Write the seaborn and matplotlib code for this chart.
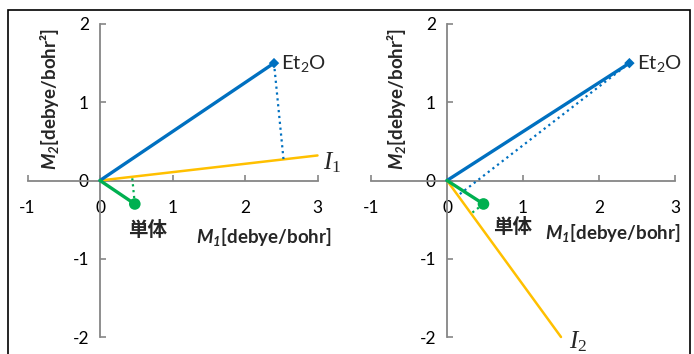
import numpy as np
import matplotlib
matplotlib.use("Agg")
import matplotlib.pyplot as plt
from matplotlib.patches import Rectangle
import seaborn as sns

# data (M1, M2)
et2o = [2.4, 1.5]
monomer = [0.48, -0.3]
i1_end = [3.0, 0.32]
i2_end = [1.5, -2.0]
xticks = [-1, 0, 1, 2, 3]
yticks = [-2, -1, 0, 1, 2]

sns.set_theme(style="white")
plt.rcParams["font.family"] = ["Lato", "Noto Sans CJK JP", "DejaVu Sans"]
plt.rcParams["mathtext.fontset"] = "custom"
plt.rcParams["mathtext.rm"] = "Liberation Serif"
plt.rcParams["mathtext.it"] = "Liberation Serif:italic"
plt.rcParams["mathtext.bf"] = "Lato:italic:bold"
plt.rcParams["mathtext.sf"] = "Lato"

BLUE = "#0070C0"
GOLD = "#FFC000"
GREEN = "#00B050"
GREY = "#868686"


def project(p, d):
    d = np.array(d, dtype=float)
    u = d / np.linalg.norm(d)
    return np.dot(p, u) * u


fig = plt.figure(figsize=(6.94, 3.54), dpi=100)
fig.patches.append(Rectangle((8 / 694, -0.1), 682 / 694, 1.1 - 10 / 354,
                             transform=fig.transFigure, fill=False,
                             edgecolor="black", linewidth=1.2))

axL = fig.add_axes([27.5 / 694, 17 / 354, 290 / 694, 313 / 354])
axR = fig.add_axes([371 / 694, 17 / 354, 304 / 694, 313 / 354])

panels = [
    (axL, i1_end, "$I_1$", (3.2, 0.23), (3.2, -0.72), (-0.69, 1.04), (0.66, -0.63)),
    (axR, i2_end, "$I_2$", (1.72, -2.06), (3.07, -0.67), (-0.66, 1.04), (0.86, -0.59)),
]

for ax, iend, ilab, ipos, xlpos, ylpos, mpos in panels:
    ax.set_xlim(-1, 3)
    ax.set_ylim(-2, 2)
    for s in ["top", "right"]:
        ax.spines[s].set_visible(False)
    for s in ["left", "bottom"]:
        ax.spines[s].set_position(("data", 0))
        ax.spines[s].set_color(GREY)
        ax.spines[s].set_linewidth(1.3)
    ax.set_xticks(xticks)
    ax.set_yticks(yticks)
    ax.set_xticklabels([str(t) for t in xticks])
    ax.set_yticklabels([str(t) for t in yticks])
    ax.tick_params(axis="both", direction="in", length=4, width=1.2,
                   color=GREY, labelsize=12.5, labelcolor="black")
    ax.tick_params(axis="x", pad=14)
    ax.tick_params(axis="y", pad=8)
    ax.tick_params(left=True, bottom=True)

    # axis line I
    sns.lineplot(x=[0, iend[0]], y=[0, iend[1]], ax=ax, color=GOLD,
                 linewidth=1.8, sort=False, zorder=3)
    # vectors
    sns.lineplot(x=[0, et2o[0]], y=[0, et2o[1]], ax=ax, color=BLUE,
                 linewidth=2.4, sort=False, zorder=4)
    sns.lineplot(x=[0, monomer[0]], y=[0, monomer[1]], ax=ax, color=GREEN,
                 linewidth=2.4, sort=False, zorder=4)
    # projections onto I
    pe = project(et2o, iend)
    pm = project(monomer, iend)
    sns.lineplot(x=[et2o[0], pe[0]], y=[et2o[1], pe[1]], ax=ax, color=BLUE,
                 linewidth=1.6, linestyle=":", sort=False, zorder=3)
    sns.lineplot(x=[monomer[0], pm[0]], y=[monomer[1], pm[1]], ax=ax,
                 color=GREEN, linewidth=1.6, linestyle=":", sort=False, zorder=3)
    sns.scatterplot(x=[et2o[0]], y=[et2o[1]], ax=ax, marker="D", s=28,
                    color=BLUE, edgecolor="none", zorder=5)
    sns.scatterplot(x=[monomer[0]], y=[monomer[1]], ax=ax, marker="o", s=70,
                    color=GREEN, edgecolor="none", zorder=5)

    ax.text(et2o[0] + 0.1, et2o[1], r"$\mathsf{Et_2O}$", fontsize=14.5,
            ha="left", va="center", clip_on=False)
    ax.text(mpos[0], mpos[1], "単体", fontsize=14, fontweight="bold",
            ha="center", va="center", clip_on=False)
    ax.text(ipos[0], ipos[1], ilab, fontsize=18, ha="center", va="center",
            clip_on=False)
    ax.text(xlpos[0], xlpos[1], r"$\mathbf{M_1}$[debye/bohr]", fontsize=13.5,
            fontweight="bold", ha="right", va="center", clip_on=False)
    ax.text(ylpos[0], ylpos[1], r"$\mathbf{M_2}$[debye/bohr²]", fontsize=13.5,
            fontweight="bold", ha="center", va="center", rotation=90,
            clip_on=False)
    ax.set_xlabel("")
    ax.set_ylabel("")
    for line in ax.get_lines():
        line.set_clip_on(False)

fig.savefig("out.png", dpi=100)
